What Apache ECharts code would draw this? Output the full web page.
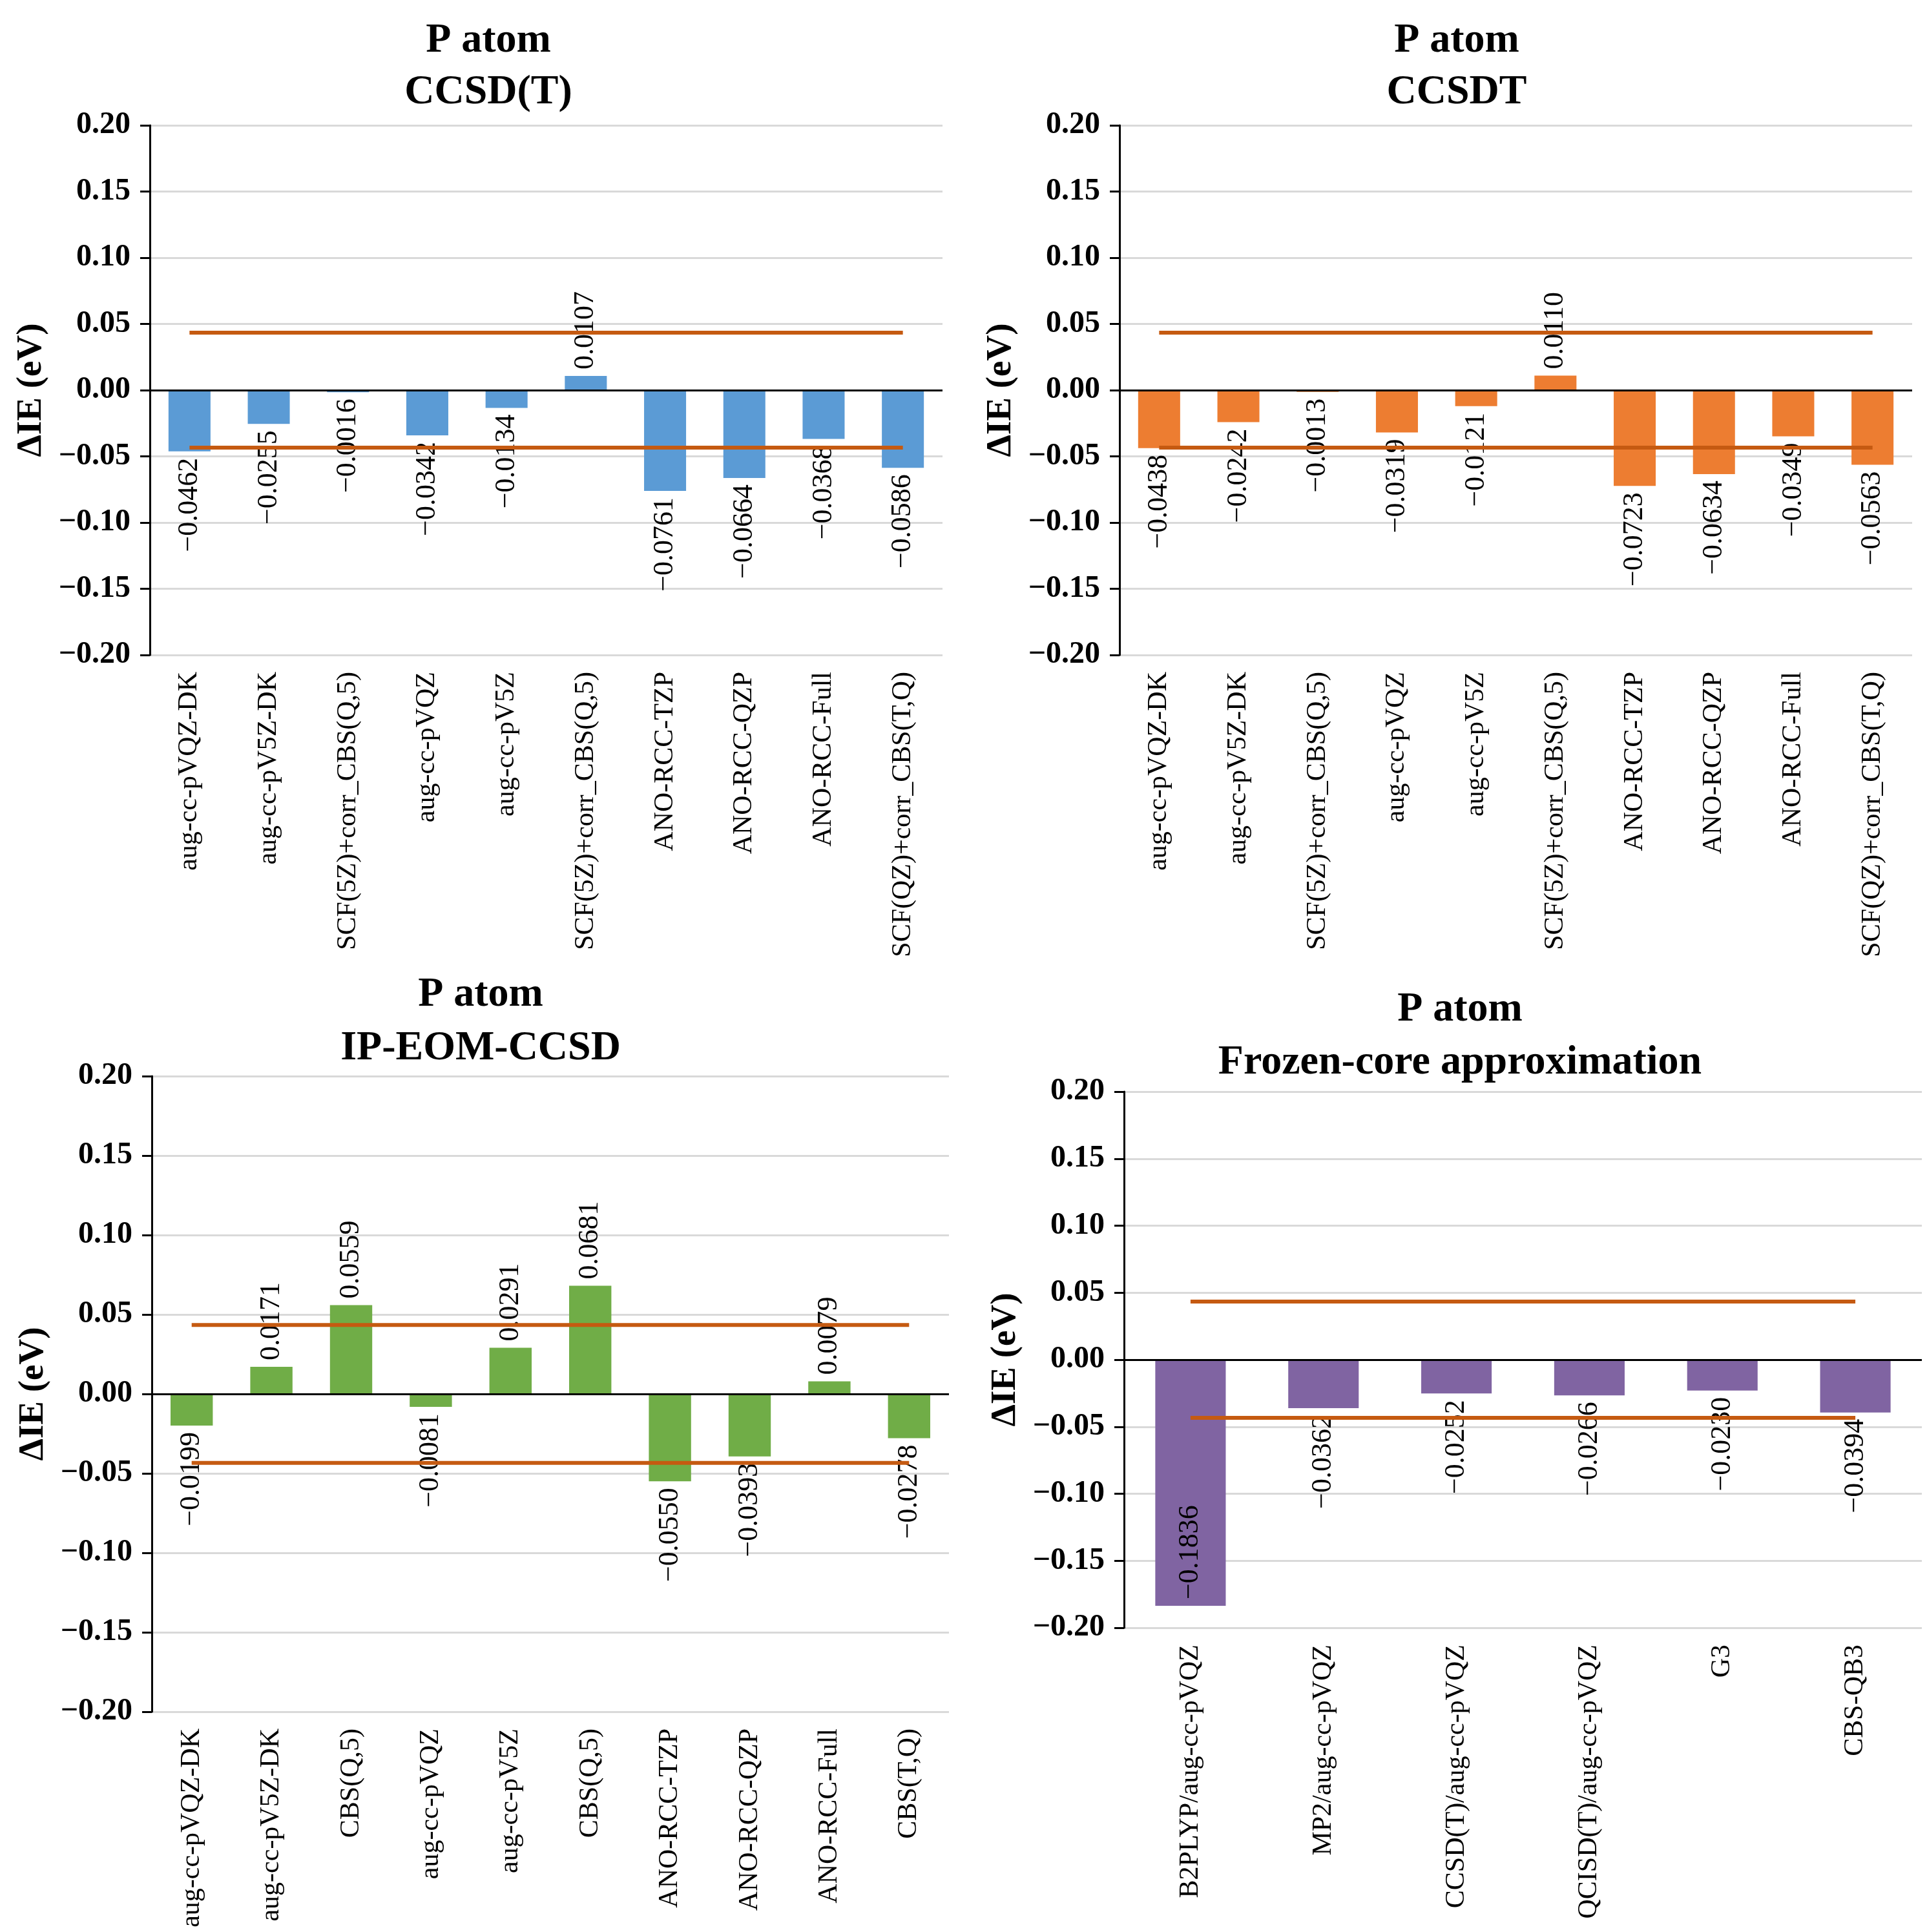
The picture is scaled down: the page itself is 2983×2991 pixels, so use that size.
<!DOCTYPE html>
<html>
<head>
<meta charset="utf-8">
<script src="https://cdn.jsdelivr.net/npm/echarts@6/dist/echarts.min.js"></script>
<style>
html, body { margin: 0; padding: 0; background: #fff; }
#main { width: 2983px; height: 2991px; }
</style>
</head>
<body>
<div id="main"></div>
<script>
// categories
var basisCats = ['aug-cc-pVQZ-DK', 'aug-cc-pV5Z-DK', 'SCF(5Z)+corr_CBS(Q,5)', 'aug-cc-pVQZ', 'aug-cc-pV5Z',
    'SCF(5Z)+corr_CBS(Q,5)', 'ANO-RCC-TZP', 'ANO-RCC-QZP', 'ANO-RCC-Full', 'SCF(QZ)+corr_CBS(T,Q)'];
var eomCats = ['aug-cc-pVQZ-DK', 'aug-cc-pV5Z-DK', 'CBS(Q,5)', 'aug-cc-pVQZ', 'aug-cc-pV5Z',
    'CBS(Q,5)', 'ANO-RCC-TZP', 'ANO-RCC-QZP', 'ANO-RCC-Full', 'CBS(T,Q)'];
var fcCats = ['B2PLYP/aug-cc-pVQZ', 'MP2/aug-cc-pVQZ', 'CCSD(T)/aug-cc-pVQZ', 'QCISD(T)/aug-cc-pVQZ', 'G3', 'CBS-QB3'];

// ΔIE values (eV)
var ccsdPTVals = [-0.0462, -0.0255, -0.0016, -0.0342, -0.0134, 0.0107, -0.0761, -0.0664, -0.0368, -0.0586];
var ccsdtVals = [-0.0438, -0.0242, -0.0013, -0.0319, -0.0121, 0.0110, -0.0723, -0.0634, -0.0349, -0.0563];
var eomVals = [-0.0199, 0.0171, 0.0559, -0.0081, 0.0291, 0.0681, -0.0550, -0.0393, 0.0079, -0.0278];
var fcVals = [-0.1836, -0.0362, -0.0252, -0.0266, -0.0230, -0.0394];

// chemical accuracy band, 1 kcal/mol
var chemAcc = 0.0434;

// y axis ticks
var yMin = -0.20, yMax = 0.20, yStep = 0.05;

var serif = '"Liberation Serif", "Times New Roman", serif';

function minus(s) { return s.replace('-', '\u2212'); }

var panels = [
    { title: 'P atom\nCCSD(T)', tx: 751, ty: 18, lh: 80, cats: basisCats, vals: ccsdPTVals, color: '#5B9BD5',
      grid: { left: 232, top: 194, width: 1227, height: 820 } },
    { title: 'P atom\nCCSDT', tx: 2250, ty: 18, lh: 80, cats: basisCats, vals: ccsdtVals, color: '#ED7D31',
      grid: { left: 1733, top: 194, width: 1227, height: 820 } },
    { title: 'P atom\nIP-EOM-CCSD', tx: 739, ty: 1494, lh: 83, cats: eomCats, vals: eomVals, color: '#70AD47',
      grid: { left: 235, top: 1666, width: 1234, height: 984 } },
    { title: 'P atom\nFrozen-core approximation', tx: 2255, ty: 1517, lh: 82, cats: fcCats, vals: fcVals, color: '#8064A2',
      grid: { left: 1740, top: 1690, width: 1235, height: 830 } }
];

function labelFor(v) {
    if (v >= 0) return { position: 'top', align: 'left', verticalAlign: 'middle' };
    if (v - 0.07 < yMin) return { position: 'insideBottom', align: 'left', verticalAlign: 'middle' };
    return { position: 'bottom', align: 'right', verticalAlign: 'middle' };
}

var titles = [], grids = [], xAxes = [], yAxes = [], series = [];

panels.forEach(function (p, i) {
    titles.push({
        text: p.title, left: p.tx, top: p.ty, textAlign: 'center',
        textStyle: { fontFamily: serif, fontWeight: 'bold', fontSize: 64, lineHeight: p.lh, color: '#000' }
    });
    grids.push(p.grid);
    xAxes.push({
        type: 'category', gridIndex: i, data: p.cats,
        axisLine: { show: false }, axisTick: { show: false },
        axisLabel: { rotate: 90, interval: 0, margin: 26, fontFamily: serif, fontSize: 42, color: '#000' }
    });
    yAxes.push({
        type: 'value', gridIndex: i, min: yMin, max: yMax, interval: yStep,
        name: '\u0394IE (eV)', nameLocation: 'middle', nameGap: 156,
        nameTextStyle: { fontFamily: serif, fontWeight: 'bold', fontSize: 55, color: '#000' },
        axisLine: { show: true, lineStyle: { color: '#000', width: 3 } },
        axisTick: { show: true, length: 15, lineStyle: { color: '#000', width: 3 } },
        splitLine: { lineStyle: { color: '#D9D9D9', width: 3 } },
        axisLabel: {
            margin: 30, fontFamily: serif, fontWeight: 'bold', fontSize: 48, color: '#000',
            formatter: function (v) { return minus(v.toFixed(2)); }
        }
    });
    series.push({
        type: 'bar', xAxisIndex: i, yAxisIndex: i, barCategoryGap: '47%',
        itemStyle: { color: p.color },
        data: p.vals.map(function (v) { return { value: v, label: labelFor(v) }; }),
        label: {
            show: true, rotate: 90, distance: 10, fontFamily: serif, fontSize: 44, color: '#000',
            formatter: function (d) { return minus(d.value.toFixed(4)); }
        },
        markLine: {
            silent: true, symbol: 'none', label: { show: false },
            lineStyle: { color: '#000', width: 3, type: 'solid' },
            data: [{ yAxis: 0 }]
        }
    });
    [chemAcc, -chemAcc].forEach(function (c) {
        series.push({
            type: 'line', xAxisIndex: i, yAxisIndex: i, symbol: 'none', silent: true, z: 5,
            lineStyle: { color: '#C55A11', width: 6 },
            data: p.cats.map(function () { return c; })
        });
    });
});

var chart = echarts.init(document.getElementById('main'));
chart.setOption({
    backgroundColor: '#fff',
    animation: false,
    title: titles,
    grid: grids,
    xAxis: xAxes,
    yAxis: yAxes,
    series: series
});
</script>
</body>
</html>
